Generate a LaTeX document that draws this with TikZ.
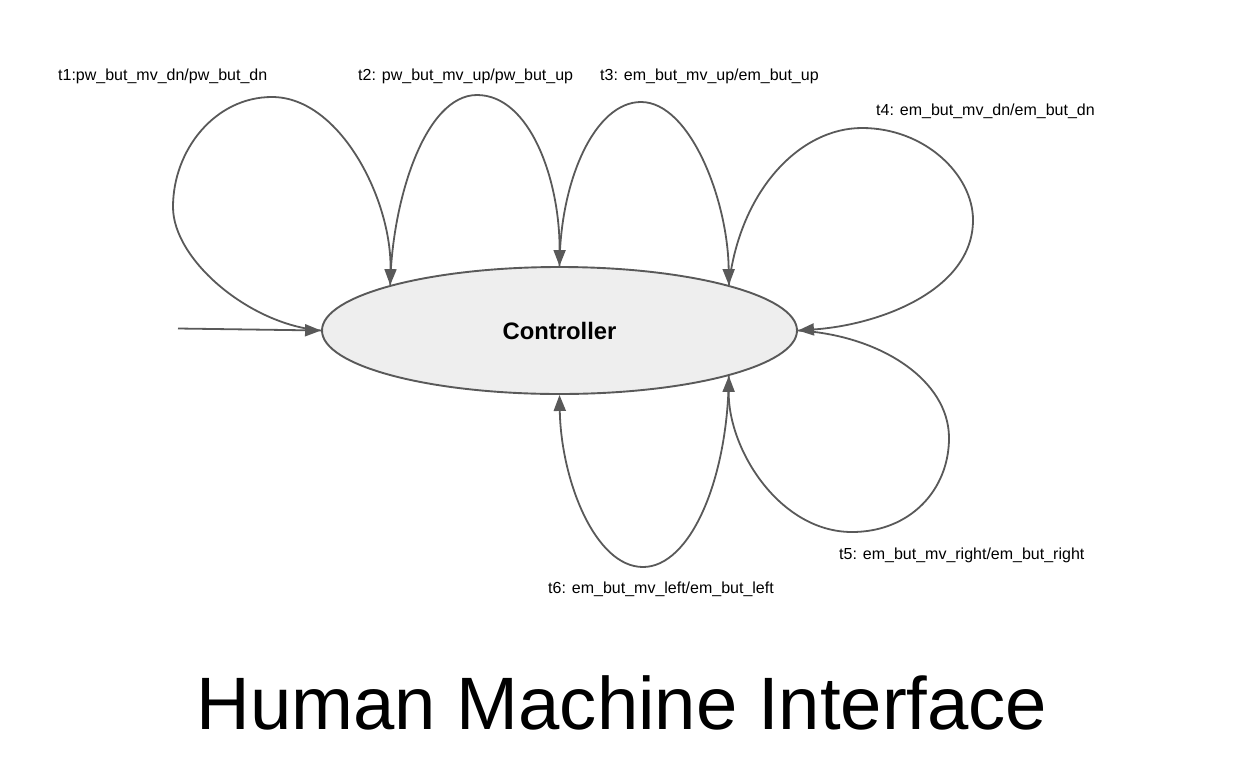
\documentclass[tikz,border=0pt]{standalone}
\usepackage{fontspec}
\setmainfont{Liberation Sans}
\usetikzlibrary{arrows.meta,shapes.geometric}
\definecolor{edgegray}{HTML}{595959}
\definecolor{statefill}{HTML}{EEEEEE}
\begin{document}
\begin{tikzpicture}[x=1pt,y=-1pt,
  edge/.style={draw=edgegray,line width=1.8pt,-{Triangle[length=16pt,width=12pt]}},
  statebox/.style={ellipse,draw=edgegray,line width=1.9pt,fill=statefill,minimum width=475pt,minimum height=127pt,inner sep=0pt,font=\fontsize{23.8}{26}\selectfont\bfseries},
  lbl/.style={anchor=base west,inner sep=0pt,font=\fontsize{16}{18}\selectfont}]
\useasboundingbox (0,0) rectangle (1247,761);
\node[statebox] (c) at (559.5,330.5) {Controller};
\coordinate (s) at (178,328.5);
\draw[edge] (s) -- (c.west);
% t1
\draw[edge] (c.west) .. controls (250,325) and (173,260) .. (173,207)
  .. controls (173,150) and (215,97) .. (272,97)
  .. controls (340,97) and (392,200) .. (c.165);
% t2
\draw[edge] (c.165) .. controls (392,200) and (425,95) .. (477,95)
  .. controls (530,95) and (560,180) .. (c.north);
% t3
\draw[edge] (c.north) .. controls (560,180) and (595,102) .. (641,102)
  .. controls (690,102) and (728,200) .. (c.15);
% t4
\draw[edge] (c.15) .. controls (740,190) and (800,128) .. (862,128)
  .. controls (925,128) and (973,175) .. (973,220)
  .. controls (973,290) and (880,325) .. (c.east);
% t5
\draw[edge] (c.east) .. controls (880,335) and (949,380) .. (949,438)
  .. controls (949,490) and (910,532) .. (852,532)
  .. controls (780,532) and (728,450) .. (c.-15);
% t6
\draw[edge] (c.-15) .. controls (728,480) and (690,567) .. (643,567)
  .. controls (595,567) and (561,480) .. (c.south);
% labels
\node[lbl] (l1) at (58,80) {t1:pw\_but\_mv\_dn/pw\_but\_dn};
\node[lbl] (l2) at (358,80) {t2: pw\_but\_mv\_up/pw\_but\_up};
\node[lbl] (l3) at (600,80) {t3: em\_but\_mv\_up/em\_but\_up};
\node[lbl] (l4) at (876,115) {t4: em\_but\_mv\_dn/em\_but\_dn};
\node[lbl] (l5) at (839,559) {t5: em\_but\_mv\_right/em\_but\_right};
\node[lbl] (l6) at (548,593) {t6: em\_but\_mv\_left/em\_but\_left};
\node[anchor=base,inner sep=0pt,font=\fontsize{74.3}{80}\selectfont] (title) at (622,729) {Human Machine Interface};
\end{tikzpicture}
\end{document}
